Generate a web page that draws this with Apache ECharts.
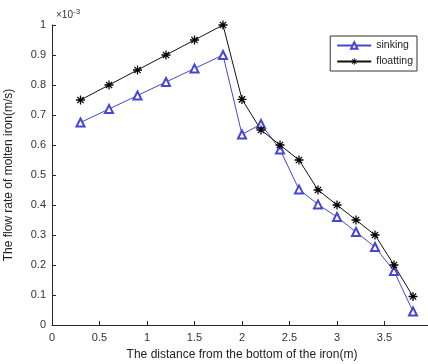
<!DOCTYPE html>
<html>
<head>
<meta charset="utf-8">
<script src="https://cdn.jsdelivr.net/npm/echarts@6/dist/echarts.min.js"></script>
<style>
  html, body { margin: 0; padding: 0; background: #fff; }
  #chart { width: 428px; height: 364px; }
</style>
</head>
<body>
<div id="chart"></div>
<script>
// distance from the bottom of the iron (m)
const distance = [0.3, 0.6, 0.9, 1.2, 1.5, 1.8, 2.0, 2.2, 2.4, 2.6, 2.8, 3.0, 3.2, 3.4, 3.6, 3.8];
// flow rate, in units of 1e-3 m/s
const sinking = [0.675, 0.72, 0.765, 0.81, 0.855, 0.9, 0.635, 0.67, 0.585, 0.452, 0.402, 0.36, 0.31, 0.26, 0.18, 0.045];
const floatting = [0.75, 0.8, 0.85, 0.9, 0.95, 1.0, 0.752, 0.65, 0.6, 0.55, 0.45, 0.4, 0.35, 0.3, 0.2, 0.095];
const seriesNames = ['sinking', 'floatting'];

// asterisk marker made of thin bars (filled path)
const star = 'path://M4.3 0H5.7V10H4.3Z M0 4.3H10V5.7H0Z M1 2L2 1L9 8L8 9Z M8 1L9 2L2 9L1 8Z';

const chart = echarts.init(document.getElementById('chart'));
const font = 'Arial, "Liberation Sans", sans-serif';
const axisGrey = '#262626';

const pairs = (ys) => distance.map((x, i) => [x, ys[i]]);

chart.setOption({
  animation: false,
  backgroundColor: '#fff',
  textStyle: { fontFamily: font },
  grid: { left: 52, top: 25, width: 380, height: 300, outerBoundsMode: 'none', containLabel: false },
  xAxis: {
    type: 'value',
    min: 0, max: 4, interval: 0.5,
    name: 'The distance from the bottom of the iron(m)',
    nameLocation: 'middle',
    nameGap: 24,
    nameTextStyle: { color: '#222', fontSize: 12, fontFamily: font },
    axisLine: { lineStyle: { color: axisGrey, width: 1 } },
    axisTick: { inside: true, length: 4, lineStyle: { color: axisGrey } },
    axisLabel: { color: '#333', fontSize: 11, margin: 7, fontFamily: font },
    splitLine: { show: false }
  },
  yAxis: {
    type: 'value',
    min: 0, max: 1, interval: 0.1,
    name: 'The flow rate of molten iron(m/s)',
    nameLocation: 'middle',
    nameGap: 37,
    nameTextStyle: { color: '#222', fontSize: 12, fontFamily: font },
    axisLine: { show: true, lineStyle: { color: axisGrey, width: 1 } },
    axisTick: { show: true, inside: true, length: 4, lineStyle: { color: axisGrey } },
    axisLabel: { color: '#333', fontSize: 11, margin: 6, fontFamily: font },
    splitLine: { show: false }
  },
  legend: {
    right: 11, top: 36,
    orient: 'vertical',
    data: seriesNames,
    backgroundColor: '#fff',
    borderColor: '#333',
    borderWidth: 1,
    borderRadius: 0,
    padding: [4, 4, 4, 6],
    itemWidth: 34,
    itemHeight: 8,
    itemGap: 5,
    textStyle: { color: '#222', fontSize: 10.5, fontFamily: font }
  },
  graphic: [{
    type: 'text',
    left: 56, top: 8,
    style: {
      text: '×10{sup|-3}',
      fill: '#333',
      font: '10px ' + font,
      rich: { sup: { fontSize: 8, verticalAlign: 'top', padding: [0, 0, 6, 0], fill: '#333' } }
    }
  }],
  series: [
    {
      name: seriesNames[0],
      type: 'line',
      data: pairs(sinking),
      symbol: 'emptyTriangle',
      symbolSize: 8,
      color: '#4646d2',
      lineStyle: { color: '#4646d2', width: 1 },
      itemStyle: { color: '#4646d2', borderWidth: 0.9 }
    },
    {
      name: seriesNames[1],
      type: 'line',
      data: pairs(floatting),
      symbol: star,
      symbolSize: 9,
      color: '#000',
      lineStyle: { color: '#111', width: 1 },
      itemStyle: { color: '#000' }
    }
  ]
});
</script>
</body>
</html>
